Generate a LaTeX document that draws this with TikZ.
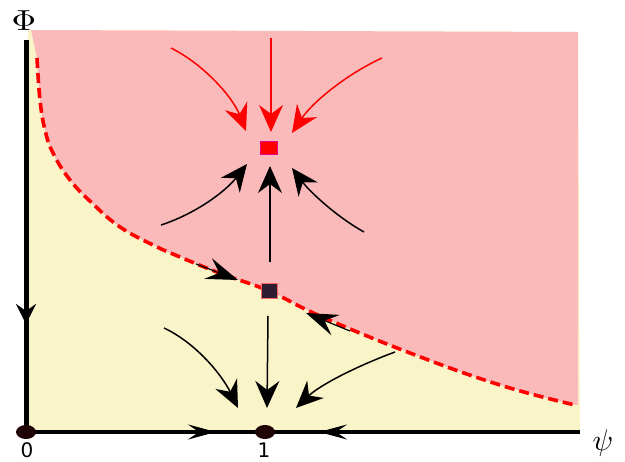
\documentclass[tikz,border=0pt]{standalone}
\usepackage{fontspec}
\newfontfamily\digitfont{DejaVu Sans}
\usetikzlibrary{arrows.meta,shapes.geometric}
\definecolor{pinkreg}{HTML}{FBBABA}
\definecolor{yellreg}{HTML}{FAF5C8}
\definecolor{dotcol}{HTML}{1E0204}
\definecolor{darksq}{HTML}{2E1C30}
\tikzset{
  flow/.style={line width=1.5pt,-{Stealth[length=27pt,width=24pt,inset=9pt]}},
  redflow/.style={flow,red},
  blackflow/.style={flow,black},
  axisarrow/.style={-{Stealth[length=28pt,width=15pt,inset=11pt]}},
  curvearrow/.style={line width=1.2pt,-{Stealth[length=32pt,width=22pt,inset=12pt]}},
  fixdot/.style={ellipse,fill=dotcol,minimum width=20pt,minimum height=14pt,inner sep=0pt},
  lbl/.style={inner sep=0pt},
  digit/.style={lbl,font=\digitfont\fontsize{20}{20}\selectfont}
}
\begin{document}
\begin{tikzpicture}[x=1pt,y=-1pt]
\useasboundingbox (0,0) rectangle (625,462);
% regions
\fill[yellreg] (28,30) -- (578,32) -- (580,432) -- (28,432) -- cycle;
\fill[pinkreg] (31,30) -- (578,32) -- (578,405)
  -- plot[smooth,tension=0.7] coordinates {(575,405) (500,385) (410,353) (320,316) (269,291) (222,274) (180,257) (153,245) (120,227) (93,204) (70,180) (53,153) (45,130) (40,100) (37,58)}
  -- cycle;
% separatrix
\draw[red,line width=3.6pt,dash pattern=on 10pt off 5pt]
  plot[smooth,tension=0.7] coordinates {(37,58) (40,100) (45,130) (53,153) (70,180) (93,204) (120,227) (153,245) (180,257) (222,274) (269,291) (320,316) (410,353) (500,385) (575,405)};
% axes
\draw[line width=5pt] (26,40) -- (26,432);
\draw[line width=4pt] (26,432) -- (580,432);
% axis arrows
\coordinate (va1) at (26,290);
\coordinate (va2) at (26,324);
\draw[line width=5pt,-{Stealth[length=20pt,width=20pt,inset=7pt]}] (va1) -- (va2);
\coordinate (ha1) at (180,432);
\coordinate (ha2) at (216,432);
\draw[line width=3pt,axisarrow] (ha1) -- (ha2);
\coordinate (hb1) at (355,432);
\coordinate (hb2) at (319,432);
\draw[line width=3pt,axisarrow] (hb1) -- (hb2);
% fixed points
\node[fixdot] (o) at (26,432) {};
\node[fixdot] (one) at (265,432) {};
\node[rectangle,fill=red,draw=magenta,line width=0.6pt,minimum width=17pt,minimum height=13pt,inner sep=0pt] (top) at (269,148) {};
\node[rectangle,fill=darksq,draw=red!60,line width=0.6pt,minimum width=16pt,minimum height=15pt,inner sep=0pt] (mid) at (269,291) {};
% labels
\node[lbl,xscale=3.4,yscale=2.9] (phi) at (24,21) {$\Phi$};
\node[lbl,scale=3] (psi) at (603,443) {$\psi$};
\node[digit] (l0) at (27,450) {0};
\node[digit] (l1) at (264,450) {1};
% flows into the top node
\coordinate (r1) at (171,48); \coordinate (r1e) at (246,131);
\coordinate (r2) at (271,38); \coordinate (r2e) at (271,132);
\coordinate (r3) at (382,58); \coordinate (r3e) at (292,133);
\draw[redflow] (r1) .. controls (205,65) and (233,98) .. (r1e);
\draw[redflow] (r2) -- (r2e);
\draw[redflow] (r3) .. controls (345,75) and (312,103) .. (r3e);
\coordinate (b1) at (161,225); \coordinate (b1e) at (247,164);
\coordinate (b2) at (270,262); \coordinate (b2e) at (270,166);
\coordinate (b3) at (364,232); \coordinate (b3e) at (292,168);
\draw[blackflow] (b1) .. controls (195,214) and (225,192) .. (b1e);
\draw[blackflow] (b2) -- (b2e);
\draw[blackflow] (b3) .. controls (337,217) and (310,192) .. (b3e);
% flows into node 1
\coordinate (c1) at (164,328); \coordinate (c1e) at (238,408);
\coordinate (c2) at (268,316); \coordinate (c2e) at (267,408);
\coordinate (c3) at (395,352); \coordinate (c3e) at (296,408);
\draw[blackflow] (c1) .. controls (196,343) and (222,375) .. (c1e);
\draw[blackflow] (c2) -- (c2e);
\draw[blackflow] (c3) .. controls (357,366) and (320,385) .. (c3e);
% arrows along separatrix
\coordinate (s1) at (196,264); \coordinate (s1e) at (238,280);
\coordinate (s2) at (350,331); \coordinate (s2e) at (306,313);
\draw[curvearrow] (s1) -- (s1e);
\draw[curvearrow] (s2) -- (s2e);
\end{tikzpicture}
\end{document}
